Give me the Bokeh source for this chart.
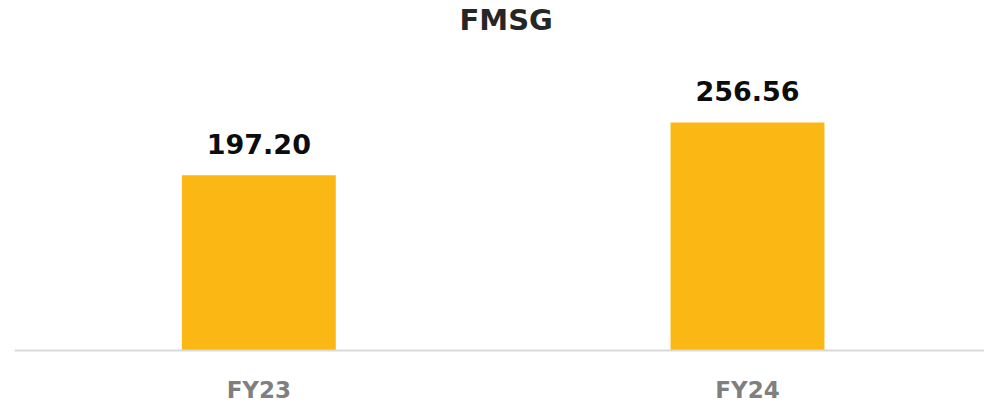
from bokeh.plotting import figure
from bokeh.models import Range1d, ColumnDataSource, Span
from bokeh.core.properties import value
from bokeh.embed import file_html
from bokeh.resources import INLINE

categories = ["FY23", "FY24"]
values = [197.20, 256.56]
value_labels = ["197.20", "256.56"]
title_text = "FMSG"

# category slots: slot i is centred on i + 0.5
xpos = [i + 0.5 for i in range(len(categories))]

src = ColumnDataSource(dict(x=xpos, cat=categories, val=values, lab=value_labels,
                            zero=[0] * len(categories)))

p = figure(width=984, height=404, output_backend="svg", toolbar_location=None,
           x_range=Range1d(0, 1.985),
           y_range=Range1d(-60.76, 393.8),
           min_border_left=14, min_border_right=0, min_border_top=0, min_border_bottom=0)

p.vbar(x="x", top="val", width=0.315, source=src, fill_color="#FBB714", line_color=None)

# baseline (category axis line)
p.add_layout(Span(location=0, dimension="width", line_color="#D9D9D9", line_width=2))

# value labels above bars
p.text(x="x", y="val", text="lab", source=src, text_align="center", text_baseline="middle",
       y_offset=-31, text_font=value("DejaVu Sans"), text_font_style="bold",
       text_font_size="27px", text_color="#0D0D0D")

# category labels below the baseline
p.text(x="x", y="zero", text="cat", source=src, text_align="center", text_baseline="middle",
       y_offset=40, text_font=value("DejaVu Sans"), text_font_style="bold",
       text_font_size="23px", text_color="#7F7F7F")

# chart title, centred over the categories
p.text(x=[sum(xpos) / len(xpos)], y=[371.3], text=[title_text], x_offset=3,
       text_align="center", text_baseline="middle",
       text_font=value("DejaVu Sans"), text_font_style="bold",
       text_font_size="29px", text_color="#262626")

p.axis.visible = False
p.xgrid.visible = False
p.ygrid.visible = False
p.outline_line_color = None

open("out.html", "w").write(file_html(p, INLINE))
